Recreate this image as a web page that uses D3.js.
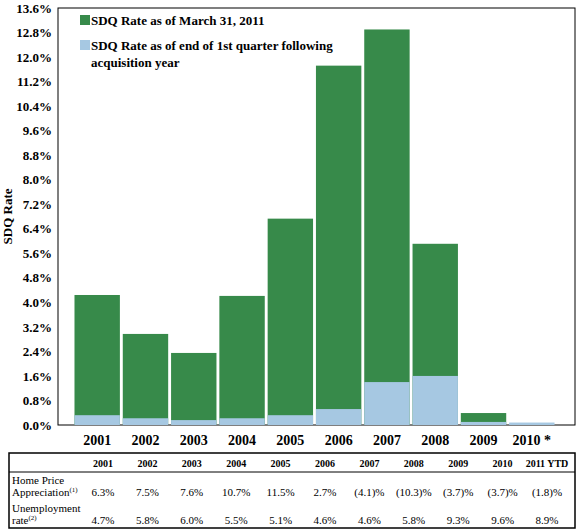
<!DOCTYPE html>
<html><head><meta charset="utf-8">
<script src="https://cdn.jsdelivr.net/npm/d3@7"></script>
<style>body{margin:0;background:#fff;font-family:"Liberation Serif",serif}</style>
</head><body><svg width="578" height="530"></svg>
<script>
var years = ["2001","2002","2003","2004","2005","2006","2007","2008","2009","2010 *"];
var sdqCurrent = [4.24, 2.97, 2.35, 4.21, 6.73, 11.72, 12.9, 5.91, 0.39, 0];
var sdqFirstQ = [0.32, 0.22, 0.16, 0.22, 0.32, 0.52, 1.4, 1.6, 0.1, 0.08];
var yTicks = d3.range(0, 13.61, 0.8);
var tblYears = ["2001","2002","2003","2004","2005","2006","2007","2008","2009","2010","2011  YTD"];
var hpa = ["6.3%","7.5%","7.6%","10.7%","11.5%","2.7%","(4.1)%","(10.3)%","(3.7)%","(3.7)%","(1.8)%"];
var unemp = ["4.7%","5.8%","6.0%","5.5%","5.1%","4.6%","4.6%","5.8%","9.3%","9.6%","8.9%"];

var svg = d3.select("svg");
var L = 58, R = 575, T = 8, B = 425;
var x = d3.scaleBand().domain(years).range([L + 2, R - 6]).paddingInner(0.06).paddingOuter(0.3);
var y = d3.scaleLinear().domain([0, 13.6]).range([B, T]);
var green = "#378a4a", blue = "#a6c8e2";

svg.append("rect").attr("x", L).attr("y", T).attr("width", R - L).attr("height", B - T)
	.attr("fill", "none").attr("stroke", "#000");

svg.selectAll(".g").data(years).enter().append("rect")
	.attr("x", function(d){return x(d);}).attr("width", x.bandwidth())
	.attr("y", function(d,i){return y(sdqCurrent[i]);})
	.attr("height", function(d,i){return B - y(sdqCurrent[i]);})
	.attr("fill", green);
svg.selectAll(".b").data(years).enter().append("rect")
	.attr("x", function(d){return x(d);}).attr("width", x.bandwidth())
	.attr("y", function(d,i){return y(sdqFirstQ[i]);})
	.attr("height", function(d,i){return B - y(sdqFirstQ[i]);})
	.attr("fill", blue);

var ya = svg.append("g").attr("transform", "translate(" + L + ",0)")
	.call(d3.axisLeft(y).tickValues(yTicks).tickSize(0).tickPadding(6).tickFormat(function(d){return d.toFixed(1) + "%";}));
ya.select(".domain").remove();
ya.selectAll("text").attr("font-family", "Liberation Serif").attr("font-size", 13).attr("font-weight", "bold");

var xa = svg.append("g").attr("transform", "translate(0," + B + ")")
	.call(d3.axisBottom(x).tickSize(0).tickPadding(10));
xa.select(".domain").remove();
xa.selectAll("text").attr("font-family", "Liberation Serif").attr("font-size", 14).attr("font-weight", "bold").attr("fill", "#000");

svg.append("text").attr("transform", "translate(12," + (T + B) / 2 + ") rotate(-90)")
	.attr("text-anchor", "middle").attr("font-size", 13).attr("font-weight", "bold").text("SDQ Rate");

// legend
var lg = svg.append("g").attr("font-size", 13).attr("font-weight", "bold");
lg.append("rect").attr("x", 80).attr("y", 15).attr("width", 10).attr("height", 10).attr("fill", green);
lg.append("text").attr("x", 91).attr("y", 25).text("SDQ Rate as of March 31, 2011");
lg.append("rect").attr("x", 80).attr("y", 40).attr("width", 10).attr("height", 10).attr("fill", blue);
lg.append("text").attr("x", 91).attr("y", 50).text("SDQ Rate as of end of 1st quarter following");
lg.append("text").attr("x", 91).attr("y", 67).text("acquisition year");

// table
var tL = 9, tR = 575, tT = 453, tB = 528;
svg.append("rect").attr("x", tL).attr("y", tT).attr("width", tR - tL).attr("height", tB - tT)
	.attr("fill", "none").attr("stroke", "#000").attr("stroke-width", 1.5);
svg.append("line").attr("x1", tL).attr("x2", tR).attr("y1", 472).attr("y2", 472).attr("stroke", "#000");
var cx = d3.scalePoint().domain(tblYears).range([103, 547]);
var tg = svg.append("g").attr("font-size", 11);
tg.selectAll(".h").data(tblYears).enter().append("text")
	.attr("x", function(d){return cx(d);}).attr("y", 467).attr("text-anchor", "middle")
	.attr("font-weight", "bold").attr("font-size", 10).text(function(d){return d;});
tg.selectAll(".p").data(hpa).enter().append("text")
	.attr("x", function(d,i){return cx(tblYears[i]);}).attr("y", 496).attr("text-anchor", "middle").text(function(d){return d;});
tg.selectAll(".u").data(unemp).enter().append("text")
	.attr("x", function(d,i){return cx(tblYears[i]);}).attr("y", 524).attr("text-anchor", "middle").text(function(d){return d;});
var hp = tg.append("text").attr("x", 12);
hp.append("tspan").attr("x", 12).attr("y", 484).text("Home Price");
hp.append("tspan").attr("x", 12).attr("y", 496).text("Appreciation");
hp.append("tspan").attr("dy", -4).attr("font-size", 7).text("(1)");
var un = tg.append("text");
un.append("tspan").attr("x", 12).attr("y", 512).text("Unemployment");
un.append("tspan").attr("x", 12).attr("y", 524).text("rate");
un.append("tspan").attr("dy", -4).attr("font-size", 7).text("(2)");
</script></body></html>
